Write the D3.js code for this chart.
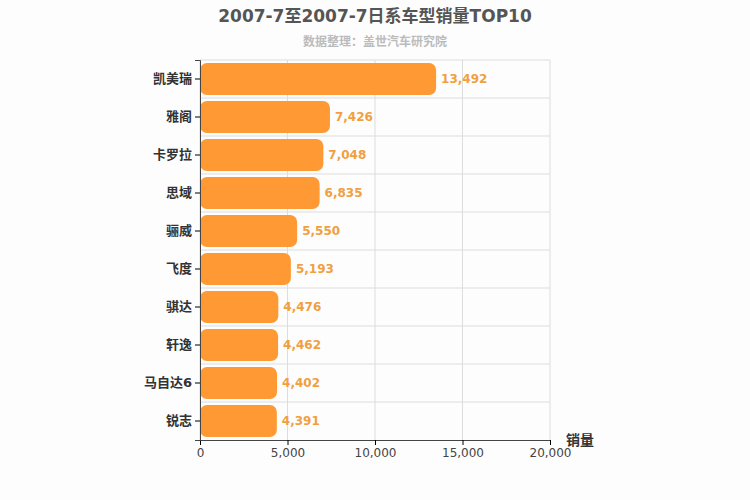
<!DOCTYPE html>
<html><head><meta charset="utf-8">
<script src="https://cdn.jsdelivr.net/npm/d3@7"></script>
<style>body{margin:0;background:#fdfdfd;font-family:"DejaVu Sans","Noto Sans CJK SC",sans-serif;}</style>
</head><body>
<svg id="c" width="750" height="500"></svg>
<script>
const categories=["凯美瑞","雅阁","卡罗拉","思域","骊威","飞度","骐达","轩逸","马自达6","锐志"];
const values=[13492,7426,7048,6835,5550,5193,4476,4462,4402,4391];
const ticks=[0,5000,10000,15000,20000];
const svg=d3.select("#c");
const L=200,R=550,T=60,B=440;
const x=d3.scaleLinear().domain([0,20000]).range([L,R]);
const y=d3.scaleBand().domain(categories).range([T,B]);
const font='"DejaVu Sans","Noto Sans CJK SC",sans-serif';
svg.append("rect").attr("width",750).attr("height",500).attr("fill","#fdfdfd");
svg.append("text").attr("x",375).attr("y",22).attr("text-anchor","middle").attr("font-size",17).attr("font-weight","bold").attr("fill","#555").attr("font-family",font).text("2007-7至2007-7日系车型销量TOP10");
svg.append("text").attr("x",375).attr("y",46).attr("text-anchor","middle").attr("font-size",12).attr("font-weight","bold").attr("fill","#bbb").attr("font-family",font).text("数据整理：盖世汽车研究院");
const g=svg.append("g");
ticks.forEach(t=>g.append("line").attr("x1",x(t)).attr("x2",x(t)).attr("y1",T).attr("y2",B).attr("stroke","#ddd"));
categories.forEach((c,i)=>g.append("line").attr("x1",L).attr("x2",R).attr("y1",y(c)).attr("y2",y(c)).attr("stroke","#ddd"));
g.selectAll(".bar").data(values).enter().append("rect")
 .attr("x",x(0)).attr("y",(d,i)=>y(categories[i])+3).attr("width",d=>x(d)-x(0)).attr("height",y.bandwidth()-6)
 .attr("rx",7).attr("fill","#ff9933");
g.selectAll(".lbl").data(values).enter().append("text")
 .attr("x",d=>x(d)+5).attr("y",(d,i)=>y(categories[i])+y.bandwidth()/2+4)
 .attr("font-size",12).attr("font-weight","bold").attr("fill","#f0a040").attr("font-family",font).text(d=>d3.format(",")(d));
const xa=svg.append("g").attr("transform",`translate(0,${B})`).call(d3.axisBottom(x).tickValues(ticks).tickFormat(d3.format(",")).tickSize(5));
xa.selectAll("text").attr("font-size",12).attr("fill","#444").attr("font-family",font);
xa.select(".domain").attr("stroke","#444");
const ya=svg.append("g").attr("transform",`translate(${L},0)`).call(d3.axisLeft(y).tickSize(5));
ya.selectAll("text").attr("font-size",13).attr("font-weight","bold").attr("fill","#333").attr("font-family",font);
ya.select(".domain").attr("stroke","#444");
svg.append("text").attr("x",580).attr("y",445).attr("text-anchor","middle").attr("font-size",14).attr("font-weight","bold").attr("fill","#333").attr("font-family",font).text("销量");
</script></body></html>
